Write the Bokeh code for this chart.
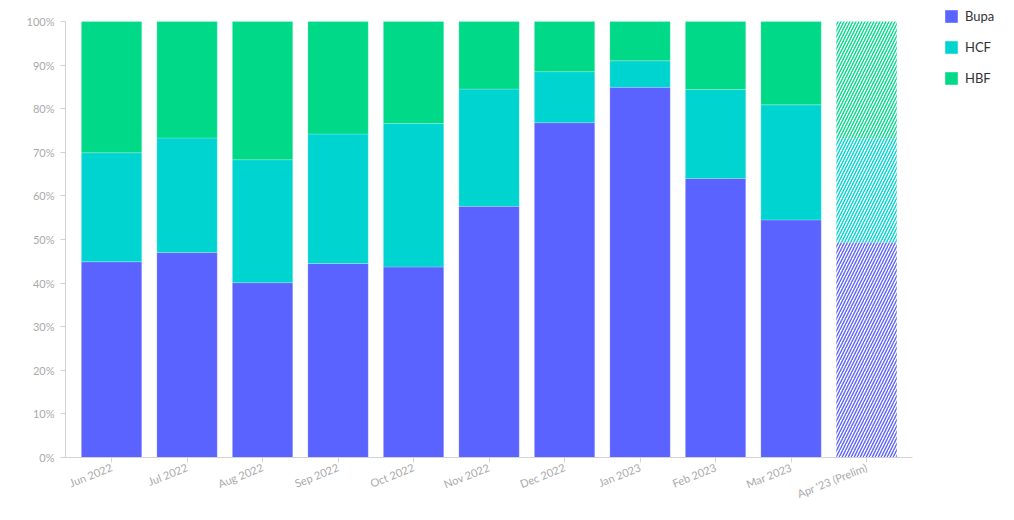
from bokeh.plotting import figure
from bokeh.models import (ColumnDataSource, Range1d, Legend, LegendItem,
                          FixedTicker, PrintfTickFormatter)
from bokeh.embed import file_html
from bokeh.resources import INLINE

months = ["Jun 2022", "Jul 2022", "Aug 2022", "Sep 2022", "Oct 2022", "Nov 2022",
          "Dec 2022", "Jan 2023", "Feb 2023", "Mar 2023", "Apr '23 (Prelim)"]
bupa = [44.9, 47.0, 40.1, 44.5, 43.7, 57.6, 76.8, 84.9, 64.0, 54.5, 49.3]
hcf = [25.0, 26.3, 28.2, 29.7, 32.9, 26.9, 11.7, 6.1, 20.4, 26.4, 23.8]
hbf = [30.1, 26.7, 31.7, 25.8, 23.4, 15.5, 11.5, 9.0, 15.6, 19.1, 26.9]
series = ["Bupa", "HCF", "HBF"]
colors = ["#5A62FF", "#00D4D0", "#00D987"]
y_ticks = [0, 10, 20, 30, 40, 50, 60, 70, 80, 90, 100]
n_final = 10  # first 10 months final, last one preliminary (hatched)

FONT = "Lato"
idx = list(range(len(months)))
pad = 0.61  # half-gaps outside first/last category, in category units

# frame spans the whole right side so the legend (drawn inside the frame) is not clipped;
# axis lines are limited with `bounds` to the data area
p = figure(width=1006, height=512, output_backend="svg", toolbar_location=None,
           x_range=Range1d(-pad, -pad + 941 / 75.5),
           y_range=Range1d(0, y_ticks[-1] * 449.5 / 435.5),
           min_border_left=65, min_border_right=0, min_border_top=7, min_border_bottom=55)
p.outline_line_color = None
p.xgrid.grid_line_color = None
p.ygrid.grid_line_color = None

src_final = ColumnDataSource(dict(x=idx[:n_final], Bupa=bupa[:n_final],
                                  HCF=hcf[:n_final], HBF=hbf[:n_final]))
src_prelim = ColumnDataSource(dict(x=idx[n_final:], Bupa=bupa[n_final:],
                                   HCF=hcf[n_final:], HBF=hbf[n_final:]))

rs = p.vbar_stack(series, x="x", width=0.8, source=src_final, color=colors,
                  line_color="white", line_alpha=0.35, line_width=0.6)
p.vbar_stack(series, x="x", width=0.8, source=src_prelim,
             fill_color=None, line_color=None,
             hatch_pattern="/", hatch_color=colors, hatch_scale=6, hatch_weight=1.4)

for ax in (p.xaxis, p.yaxis):
    ax.axis_line_color = "#d3d3d3"
    ax.major_tick_line_color = "#d3d3d3"
    ax.minor_tick_line_color = None
    ax.major_tick_out = 5
    ax.major_tick_in = 0
    ax.major_label_text_font = FONT
    ax.major_label_text_font_size = "11px"
    ax.major_label_text_color = "#aaaaaa"

p.yaxis.ticker = FixedTicker(ticks=y_ticks)
p.yaxis.formatter = PrintfTickFormatter(format="%d%%")
p.yaxis.major_label_standoff = 6
p.yaxis.bounds = (y_ticks[0], y_ticks[-1])

p.xaxis.ticker = FixedTicker(ticks=idx)
p.xaxis.major_label_overrides = {i: m for i, m in zip(idx, months)}
p.xaxis.major_label_orientation = 0.38
p.xaxis.major_label_standoff = 4
p.xaxis.bounds = (-pad, idx[-1] + pad)

legend = Legend(items=[LegendItem(label=s, renderers=[r]) for s, r in zip(series, rs)],
                location=(878, 371), orientation="vertical",
                glyph_width=16, glyph_height=16, label_height=16, spacing=15,
                label_standoff=6, padding=0, margin=0, border_line_color=None,
                background_fill_alpha=0,
                label_text_font=FONT, label_text_font_size="13px", label_text_color="#333333")
p.add_layout(legend, "center")

open("out.html", "w").write(file_html(p, INLINE))
